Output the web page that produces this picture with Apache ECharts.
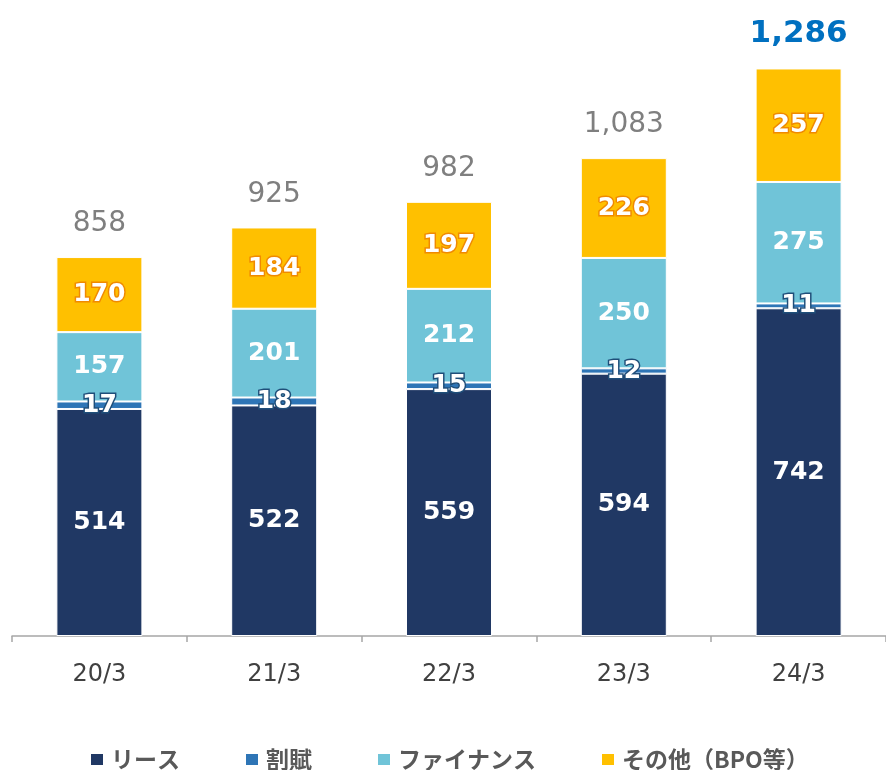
<!DOCTYPE html>
<html lang="ja">
<head>
<meta charset="UTF-8">
<title></title>
<script src="https://cdn.jsdelivr.net/npm/echarts@6/dist/echarts.min.js"></script>
<style>
    html, body { margin: 0; padding: 0; background: #fff; }
    #main { width: 886px; height: 770px; }
</style>
</head>
<body>
<div id="main"></div>
<script>
    var categories = ['20/3', '21/3', '22/3', '23/3', '24/3'];
    var lease = [514, 522, 559, 594, 742];
    var installment = [17, 18, 15, 12, 11];
    var finance = [157, 201, 212, 250, 275];
    var others = [170, 184, 197, 226, 257];
    var totals = ['858', '925', '982', '1,083', '1,286'];

    var labelFont = 'DejaVu Sans, Verdana, sans-serif';

    function innerLabel(border, width) {
        return {
            show: true,
            position: 'inside',
            color: '#fff',
            fontFamily: labelFont,
            fontWeight: 'bold',
            fontSize: 25,
            textBorderColor: border,
            textBorderWidth: width
        };
    }

    var chart = echarts.init(document.getElementById('main'));
    chart.setOption({
        animation: false,
        grid: { left: 12, right: -1, top: 0, bottom: 134 },
        legend: {
            left: 84,
            top: 743,
            icon: 'rect',
            itemWidth: 14,
            itemHeight: 13,
            itemGap: 64,
            textStyle: {
                fontFamily: 'Noto Sans CJK JP', fontWeight: 'bold', fontSize: 23, color: '#595959',
                padding: [0, 0, 0, 2]
            },
            data: ['リース', '割賦', 'ファイナンス', 'その他（BPO等）']
        },
        xAxis: {
            type: 'category',
            data: categories,
            axisLine: { lineStyle: { color: '#a6a6a6', width: 1.5 } },
            axisTick: { show: true, length: 6, lineStyle: { color: '#a6a6a6', width: 1.5 } },
            axisLabel: { margin: 27, fontFamily: labelFont, fontSize: 24, color: '#404040' }
        },
        yAxis: { type: 'value', min: 0, max: 1440, show: false, splitLine: { show: false } },
        series: [
            {
                name: 'リース', type: 'bar', stack: 'a', barWidth: 86, data: lease,
                itemStyle: { color: '#203864', borderColor: '#fff', borderWidth: 1 },
                label: innerLabel('transparent', 0)
            },
            {
                name: '割賦', type: 'bar', stack: 'a', data: installment,
                itemStyle: { color: '#2e75b6', borderColor: '#fff', borderWidth: 1 },
                label: innerLabel('#1f4e79', 3)
            },
            {
                name: 'ファイナンス', type: 'bar', stack: 'a', data: finance,
                itemStyle: { color: '#70c4d8', borderColor: '#fff', borderWidth: 1 },
                label: innerLabel('transparent', 0)
            },
            {
                name: 'その他（BPO等）', type: 'bar', stack: 'a', data: others,
                itemStyle: { color: '#ffc000', borderColor: '#fff', borderWidth: 1 },
                label: innerLabel('#f08a00', 3)
            },
            {
                name: 'total', type: 'bar', stack: 'a', data: [0, 0, 0, 0, 0],
                itemStyle: { color: 'transparent' },
                label: {
                    show: true,
                    position: 'top',
                    distance: 19,
                    fontFamily: labelFont,
                    fontSize: 28,
                    color: '#7f7f7f',
                    formatter: function (p) {
                        if (p.dataIndex === totals.length - 1) return '{big|' + totals[p.dataIndex] + '}';
                        return totals[p.dataIndex];
                    },
                    rich: {
                        big: { fontFamily: labelFont, fontSize: 31, fontWeight: 'bold', color: '#0070c0' }
                    }
                }
            }
        ]
    });
</script>
</body>
</html>
